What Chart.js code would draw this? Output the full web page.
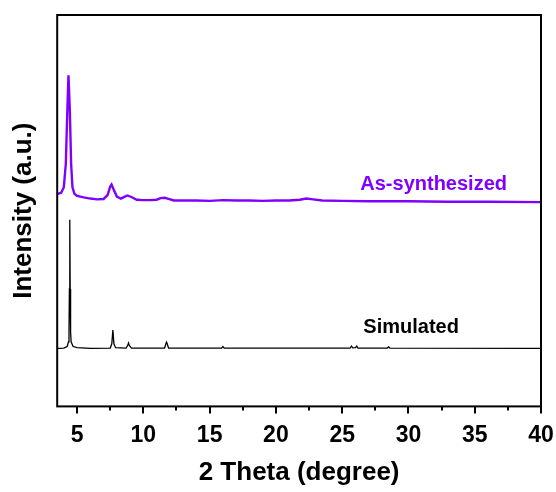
<!DOCTYPE html>
<html>
<head>
<meta charset="utf-8">
<script src="https://cdn.jsdelivr.net/npm/chart.js@4"></script>
<style>
  html, body { margin: 0; padding: 0; background: #fff; }
  #wrap { width: 556px; height: 492px; }
</style>
</head>
<body>
<div id="wrap"><canvas id="xrd"></canvas></div>
<script>
// 2 theta values and intensities (a.u., offset)
const synthTheta = [3.55, 3.8, 4.0, 4.15, 4.25, 4.35, 4.45, 4.55, 4.65, 4.8, 5.0, 5.5, 6.0, 6.5, 7.0, 7.3, 7.5, 7.6, 7.75, 8.0, 8.3, 8.6, 8.8, 9.1, 9.5, 10.0, 10.5, 11.0, 11.3, 11.6, 11.9, 12.3, 13, 14, 15, 16, 17, 18, 19, 20, 21, 21.8, 22.3, 22.8, 23.5, 25, 27, 30, 33, 36, 40];
const synthInt   = [54.3, 54.6, 56, 62, 74, 84.6, 76, 62, 56, 54.3, 53.8, 53.4, 53.1, 52.9, 53.0, 54.0, 56.2, 56.7, 55.5, 53.6, 53.1, 53.6, 53.9, 53.5, 52.8, 52.7, 52.7, 52.8, 53.2, 53.3, 53.0, 52.6, 52.6, 52.6, 52.5, 52.7, 52.6, 52.6, 52.5, 52.6, 52.6, 52.8, 53.1, 52.9, 52.6, 52.5, 52.4, 52.4, 52.3, 52.3, 52.2];

const simTheta = [3.55, 4.0, 4.25, 4.35, 4.39, 4.42, 4.45, 4.48, 4.51, 4.55, 4.7, 5.0, 6.0, 7.5, 7.62, 7.7, 7.78, 7.9, 8.7, 8.82, 8.88, 8.94, 9.1, 11.6, 11.7, 11.75, 11.8, 11.9, 15.9, 16.0, 16.1, 25.6, 25.7, 25.8, 26.0, 26.1, 26.2, 28.4, 28.5, 28.6, 40];
const simInt   = [14.8, 14.9, 15.3, 16.5, 19, 30, 47.7, 30, 19, 16.5, 15.3, 15.0, 14.8, 14.9, 16, 19.5, 16, 15.0, 14.9, 15.6, 16.2, 15.6, 14.9, 14.9, 16.0, 16.4, 16.0, 14.9, 14.9, 15.3, 14.9, 14.9, 15.4, 14.95, 15.0, 15.4, 14.9, 14.9, 15.2, 14.9, 14.8];

const xTicks = [5, 10, 15, 20, 25, 30, 35, 40];
const xMinorTicks = [7.5, 12.5, 17.5, 22.5, 27.5, 32.5, 37.5];

const seriesNames = ["As-synthesized", "Simulated"];
const seriesColors = ["#8000ff", "#000000"];

const FONT = "'Liberation Sans', Arial, Helvetica, sans-serif";

function toPoints(xs, ys) {
    return xs.map((x, i) => ({ x: x, y: ys[i] }));
}

// frame, tick marks and curve labels
const framePlugin = {
    id: "frame",
    afterDatasetsDraw(chart) {
        const ctx = chart.ctx;
        const a = chart.chartArea;
        const xs = chart.scales.x;
        const ys = chart.scales.y;
        ctx.save();
        ctx.strokeStyle = "#000";
        ctx.lineWidth = 2;
        ctx.strokeRect(a.left, a.top, a.right - a.left, a.bottom - a.top);
        ctx.beginPath();
        xTicks.forEach(t => {
            const px = Math.round(xs.getPixelForValue(t));
            ctx.moveTo(px, a.bottom);
            ctx.lineTo(px, a.bottom + 7);
        });
        xMinorTicks.forEach(t => {
            const px = Math.round(xs.getPixelForValue(t));
            ctx.moveTo(px, a.bottom);
            ctx.lineTo(px, a.bottom + 4);
        });
        ctx.stroke();

        ctx.font = "bold 20px " + FONT;
        ctx.textAlign = "center";
        ctx.textBaseline = "middle";
        ctx.fillStyle = seriesColors[0];
        ctx.fillText(seriesNames[0], xs.getPixelForValue(31.9), ys.getPixelForValue(56.6));
        ctx.fillStyle = seriesColors[1];
        ctx.fillText(seriesNames[1], xs.getPixelForValue(30.2), ys.getPixelForValue(20.2));
        ctx.restore();
    }
};

new Chart(document.getElementById("xrd").getContext("2d"), {
    type: "line",
    data: {
        datasets: [
            {
                label: seriesNames[0],
                data: toPoints(synthTheta, synthInt),
                borderColor: seriesColors[0],
                borderWidth: 2.4,
                pointRadius: 0,
                tension: 0
            },
            {
                label: seriesNames[1],
                data: toPoints(simTheta, simInt),
                borderColor: seriesColors[1],
                borderWidth: 1.3,
                pointRadius: 0,
                tension: 0
            }
        ]
    },
    options: {
        responsive: true,
        maintainAspectRatio: false,
        animation: false,
        layout: { padding: { left: 4, right: 15, top: 15, bottom: 6 } },
        plugins: {
            legend: { display: false },
            tooltip: { enabled: false }
        },
        scales: {
            x: {
                type: "linear",
                min: 3.5,
                max: 40,
                afterBuildTicks: axis => {
                    axis.ticks = xTicks.map(v => ({ value: v }));
                },
                // let the "40" label hang into the right margin
                afterFit: axis => {
                    axis.paddingRight = 0;
                },
                grid: { display: false },
                border: { display: false },
                ticks: {
                    color: "#000",
                    padding: 7,
                    maxRotation: 0,
                    font: { family: FONT, size: 23, weight: "bold" }
                },
                title: {
                    display: true,
                    text: "2 Theta (degree)",
                    color: "#000",
                    padding: { top: 4, bottom: 0 },
                    font: { family: FONT, size: 26, weight: "bold", lineHeight: 1.0 }
                }
            },
            y: {
                min: 0,
                max: 100,
                grid: { display: false },
                border: { display: false },
                ticks: { display: false },
                title: {
                    display: true,
                    text: "Intensity (a.u.)",
                    color: "#000",
                    padding: { top: 4, bottom: 10 },
                    font: { family: FONT, size: 26, weight: "bold" }
                }
            }
        }
    },
    plugins: [framePlugin]
});
</script>
</body>
</html>
